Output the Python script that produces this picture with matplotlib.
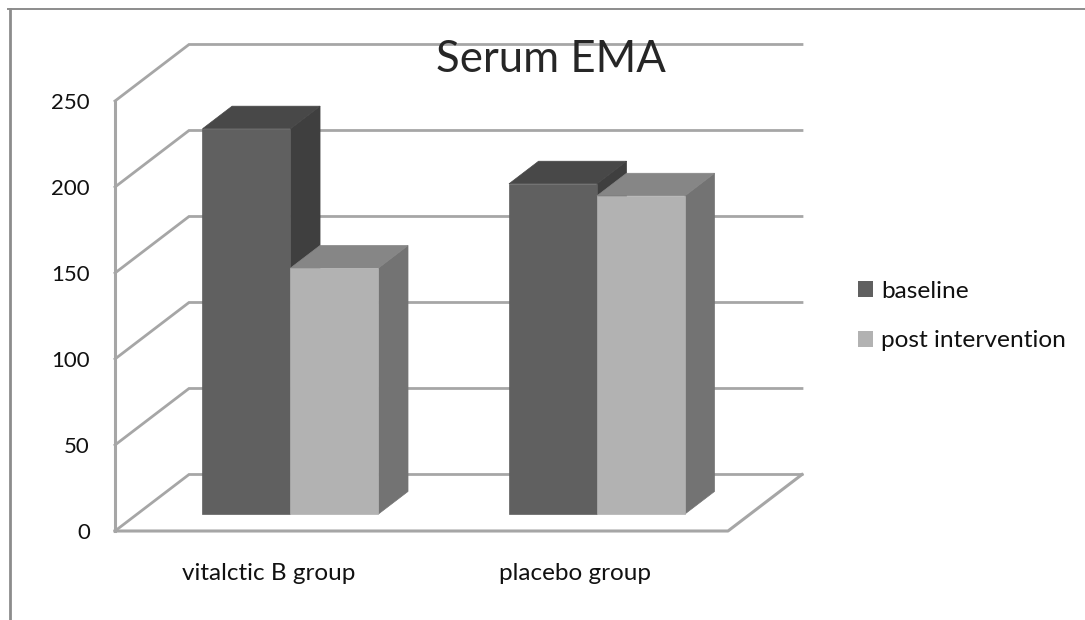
import matplotlib
matplotlib.use('Agg')
import matplotlib.pyplot as plt
from matplotlib.patches import Patch, Polygon

plt.rcParams['font.family'] = ['Lato', 'DejaVu Sans']

categories = ["vitalctic B group", "placebo group"]
series_names = ["baseline", "post intervention"]
baseline = [224, 192]
post_intervention = [143, 185]
y_ticks = [0, 50, 100, 150, 200, 250]

front_colors = ["#606060", "#b2b2b2"]
top_colors = ["#484848", "#868686"]
side_colors = ["#3f3f3f", "#737373"]
GRID = "#a6a6a6"
FRAME = "#8c8c8c"

# oblique depth of the fake 3d box, in data units
DX = 0.2414
DY = 32.85
BAR_W = 0.287
BAR_FRONT = 0.3
BAR_DEPTH = 0.4


def proj(x, y, d):
    return (x + d * DX, y + d * DY)


def draw_bar(ax, x0, value, i):
    x1 = x0 + BAR_W
    d0 = BAR_FRONT
    d1 = BAR_FRONT + BAR_DEPTH
    side = [proj(x1, 0, d0), proj(x1, 0, d1), proj(x1, value, d1), proj(x1, value, d0)]
    top = [proj(x0, value, d0), proj(x1, value, d0), proj(x1, value, d1), proj(x0, value, d1)]
    front = [proj(x0, 0, d0), proj(x1, 0, d0), proj(x1, value, d0), proj(x0, value, d0)]
    for pts, col in ((side, side_colors[i]), (top, top_colors[i]), (front, front_colors[i])):
        ax.add_patch(Polygon(pts, closed=True, facecolor=col, edgecolor=col, lw=0.5,
                             clip_on=False, zorder=3 + i))


fig = plt.figure(figsize=(10.85, 6.2), dpi=100)
ax = fig.add_axes([115 / 1085, (620 - 531) / 620, 613 / 1085, 430 / 620])
ax.set_xlim(0, 2)
ax.set_ylim(0, 250)
for s in ax.spines.values():
    s.set_visible(False)
ax.patch.set_visible(False)

# walls and floor
for v in y_ticks:
    pts = [proj(0, v, 0), proj(0, v, 1), proj(2, v, 1)]
    ax.plot([p[0] for p in pts], [p[1] for p in pts], color=GRID, lw=2, clip_on=False,
            zorder=1, solid_joinstyle='miter')
ax.plot([0, 0], [0, 250], color=GRID, lw=2.2, clip_on=False, zorder=1)
floor = [proj(0, 0, 0), proj(2, 0, 0), proj(2, 0, 1)]
ax.plot([p[0] for p in floor], [p[1] for p in floor], color=GRID, lw=2.2, clip_on=False, zorder=1)

for c in range(len(categories)):
    x_start = c + 0.5 - BAR_W
    draw_bar(ax, x_start, baseline[c], 0)
    draw_bar(ax, x_start + BAR_W, post_intervention[c], 1)

ax.set_yticks(y_ticks)
ax.set_yticklabels([str(v) for v in y_ticks], fontsize=16, color="#111111")
ax.set_xticks([0.5, 1.5])
ax.set_xticklabels(categories, fontsize=17.5, color="#111111")
ax.tick_params(axis='y', length=0, pad=18)
ax.tick_params(axis='x', length=0, pad=23)

fig.text(551 / 1085, 1 - 60 / 620, "Serum EMA", ha='center', va='center', fontsize=31.5, color="#262626")

handles = [Patch(facecolor=front_colors[i], edgecolor='none') for i in range(2)]
fig.legend(handles, series_names, loc='center left', bbox_to_anchor=(858 / 1085, 1 - 316 / 620),
           frameon=False, fontsize=17.6, handlelength=0.62, handleheight=0.62, handletextpad=0.33,
           labelspacing=1.17, labelcolor="#111111", borderaxespad=0, borderpad=0)

# outer chart frame, only top and left edges are in the crop
fig.add_artist(plt.Line2D([8 / 1085, 1], [1 - 8.5 / 620, 1 - 8.5 / 620], color=FRAME, lw=1.4))
fig.add_artist(plt.Line2D([9.5 / 1085, 9.5 / 1085], [0, 1 - 8.5 / 620], color=FRAME, lw=2))

fig.savefig("out.png", dpi=100)
plt.close(fig)
